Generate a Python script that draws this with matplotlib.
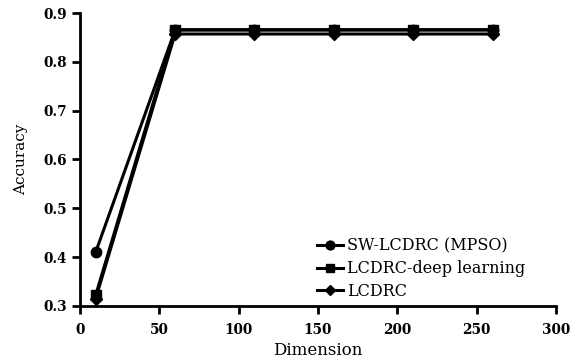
import matplotlib.pyplot as plt

plt.rcParams["font.family"] = ["DejaVu Serif"]

# Data
dimension = [10, 60, 110, 160, 210, 260]
sw_lcdrc_mpso = [0.41, 0.865, 0.865, 0.865, 0.865, 0.865]
lcdrc_deep = [0.322, 0.866, 0.866, 0.866, 0.866, 0.866]
lcdrc = [0.315, 0.857, 0.857, 0.857, 0.857, 0.857]

fig = plt.figure(figsize=(5.74, 3.62), dpi=100)
ax = fig.add_axes([0.139, 0.155, 0.830, 0.809])

ax.plot(dimension, sw_lcdrc_mpso, color="black", lw=2.2, marker="o", ms=7.5, label="SW-LCDRC (MPSO)")
ax.plot(dimension, lcdrc_deep, color="black", lw=2.2, marker="s", ms=7.5, label="LCDRC-deep learning")
ax.plot(dimension, lcdrc, color="black", lw=2.2, marker="D", ms=6.5, label="LCDRC")

ax.set_xlim(0, 300)
ax.set_ylim(0.3, 0.9)
ax.set_xticks([0, 50, 100, 150, 200, 250, 300])
ax.set_yticks([0.3, 0.4, 0.5, 0.6, 0.7, 0.8, 0.9])
ax.set_yticklabels(["0.3", "0.4", "0.5", "0.6", "0.7", "0.8", "0.9"])

for side in ["top", "right"]:
    ax.spines[side].set_visible(False)
for side in ["left", "bottom"]:
    ax.spines[side].set_linewidth(2)
ax.tick_params(width=2, length=6, labelsize=9.8)
ax.tick_params(axis="x", pad=6)
ax.tick_params(axis="y", pad=3)
for lbl in ax.get_xticklabels() + ax.get_yticklabels():
    lbl.set_fontweight("bold")

ax.set_xlabel("Dimension", fontsize=12, labelpad=4)
ax.set_ylabel("Accuracy", fontsize=11, labelpad=11)

ax.legend(loc="lower right", bbox_to_anchor=(0.935, 0.02), frameon=False, fontsize=11.5,
          handlelength=1.6, handletextpad=0.25, labelspacing=0.35, borderpad=0,
          borderaxespad=0, markerscale=0.85)

fig.savefig("out.png", dpi=100)
